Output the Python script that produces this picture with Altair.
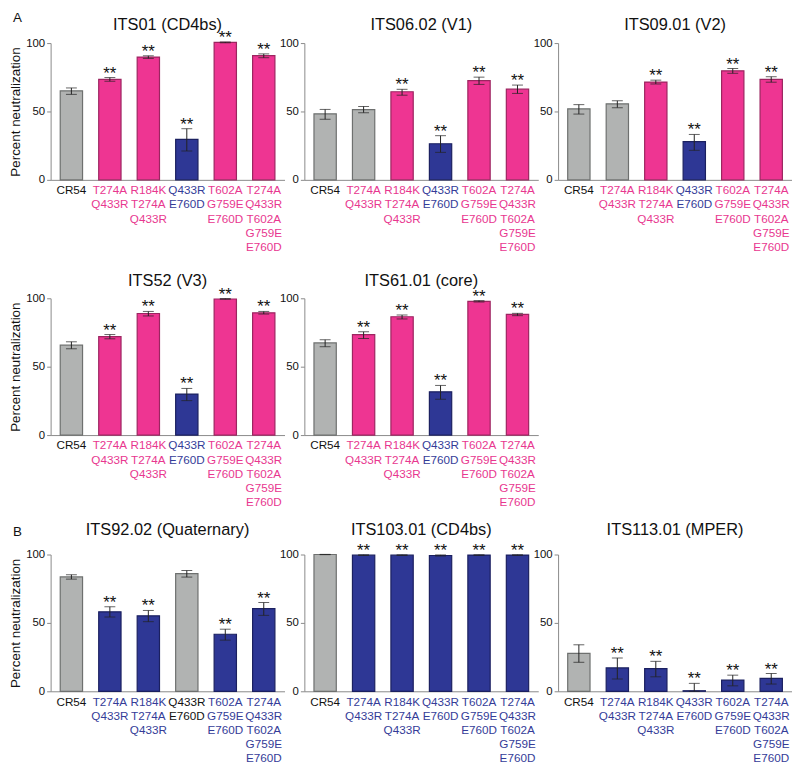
import altair as alt
import pandas as pd

FONT = "Liberation Sans"

CATS = ["CR54", "T274A Q433R", "R184K T274A Q433R", "Q433R E760D",
        "T602A G759E E760D", "T274A Q433R T602A G759E E760D"]

TITLES = ["ITS01 (CD4bs)", "ITS06.02 (V1)", "ITS09.01 (V2)", "ITS52 (V3)",
          "ITS61.01 (core)", "ITS92.02 (Quaternary)", "ITS103.01 (CD4bs)",
          "ITS113.01 (MPER)"]

MEANS = [
    [65.1, 73.5, 89.8, 29.6, 100.5, 90.8],
    [48.3, 51.4, 64.4, 26.4, 72.6, 66.3],
    [51.9, 55.6, 71.5, 28.0, 79.7, 73.4],
    [65.7, 72.0, 88.9, 30.0, 99.5, 89.4],
    [67.4, 73.4, 86.5, 31.6, 97.8, 88.2],
    [83.6, 58.1, 55.2, 86.0, 41.7, 60.5],
    [100.0, 99.5, 99.5, 99.3, 99.6, 99.6],
    [27.7, 17.1, 16.6, 0.4, 8.2, 9.4],
]
LOWS = [
    [62.5, 72.1, 88.8, 21.1, 100.2, 89.3],
    [44.3, 49.1, 61.9, 20.1, 69.8, 63.2],
    [48.1, 52.8, 70.1, 21.6, 77.9, 71.4],
    [63.1, 70.4, 87.1, 25.2, 99.3, 88.5],
    [64.6, 70.6, 84.9, 26.2, 97.3, 87.3],
    [82.0, 54.3, 50.9, 83.5, 37.4, 55.5],
    [99.9, 99.3, 99.3, 98.9, 99.4, 99.4],
    [21.2, 8.9, 10.6, 0.0, 4.0, 5.3],
]
HIGHS = [
    [67.2, 74.8, 90.7, 37.4, 100.8, 92.1],
    [51.5, 53.7, 66.2, 32.3, 75.1, 69.3],
    [55.0, 57.8, 72.9, 33.2, 81.4, 75.4],
    [68.2, 73.5, 90.4, 34.1, 99.8, 90.4],
    [69.7, 75.5, 87.8, 36.3, 98.3, 89.0],
    [85.2, 61.8, 59.1, 88.3, 45.4, 64.9],
    [100.1, 99.8, 99.8, 99.7, 99.8, 99.8],
    [34.0, 24.3, 21.9, 5.8, 11.8, 13.0],
]
# bar colour group: g = gray, p = pink, b = blue
BAR_GROUPS = [
    ["g", "p", "p", "b", "p", "p"],
    ["g", "g", "p", "b", "p", "p"],
    ["g", "g", "p", "b", "p", "p"],
    ["g", "p", "p", "b", "p", "p"],
    ["g", "p", "p", "b", "p", "p"],
    ["g", "b", "b", "g", "b", "b"],
    ["g", "b", "b", "b", "b", "b"],
    ["g", "b", "b", "b", "b", "b"],
]
# label colour group: k = black, p = pink, b = blue
LABEL_GROUPS = [
    ["k", "p", "p", "b", "p", "p"],
    ["k", "p", "p", "b", "p", "p"],
    ["k", "p", "p", "b", "p", "p"],
    ["k", "p", "p", "b", "p", "p"],
    ["k", "p", "p", "b", "p", "p"],
    ["k", "b", "b", "k", "b", "b"],
    ["k", "b", "b", "b", "b", "b"],
    ["k", "b", "b", "b", "b", "b"],
]
SIG = [
    [0, 1, 1, 1, 1, 1],
    [0, 0, 1, 1, 1, 1],
    [0, 0, 1, 1, 1, 1],
    [0, 1, 1, 1, 1, 1],
    [0, 1, 1, 1, 1, 1],
    [0, 1, 1, 0, 1, 1],
    [0, 1, 1, 1, 1, 1],
    [0, 1, 1, 1, 1, 1],
]

FILLS = {"g": "#b1b3b2", "p": "#ee3592", "b": "#2e3795"}
STROKES = {"g": "#6e706f", "p": "#9c2560", "b": "#1b2060"}
TEXT_COLS = {"k": "#111111", "p": "#e8378f", "b": "#343c98"}

PW, PH = 236, 138


def label_color_condition(groups):
    conds = []
    for cat, g in zip(CATS, groups):
        if g != "b":
            conds.append({"test": f"datum.value == '{cat}'", "value": TEXT_COLS[g]})
    return {"condition": conds, "value": TEXT_COLS["b"]}


def panel(i, ytitle=False, title_y=-13, letter=None, letter_y=-21):
    df = pd.DataFrame({
        "cat": CATS,
        "mean": MEANS[i],
        "low": LOWS[i],
        "high": HIGHS[i],
        "grp": BAR_GROUPS[i],
        "sig": SIG[i],
    })
    xenc = alt.X(
        "cat:N", sort=CATS,
        scale=alt.Scale(paddingInner=0.42, paddingOuter=0.25),
        axis=alt.Axis(
            title=None, labelAngle=0, ticks=False, domainColor="#8a8a8a",
            labelExpr="split(datum.value, ' ')", labelFontSize=11.8,
            labelLineHeight=14.3, labelPadding=5, labelOverlap=False,
            labelColor=label_color_condition(LABEL_GROUPS[i]),
            labelFont=FONT,
        ),
    )
    yaxis = alt.Axis(
        values=[0, 50, 100], grid=False, domainColor="#8a8a8a",
        tickColor="#8a8a8a", tickSize=4, labelFontSize=11.5, labelPadding=2,
        labelColor="#111111", labelFont=FONT,
        title="Percent neutralization" if ytitle else None,
        titleFontSize=13.5, titleFontWeight="normal", titlePadding=3,
        titleColor="#111111", titleFont=FONT,
    )
    yscale = alt.Scale(domain=[0, 100], nice=False)
    base = alt.Chart(df).encode(x=xenc)
    bars = base.mark_bar(strokeWidth=1.2).encode(
        y=alt.Y("mean:Q", scale=yscale, axis=yaxis),
        fill=alt.Fill("grp:N", scale=alt.Scale(domain=list(FILLS), range=list(FILLS.values())), legend=None),
        stroke=alt.Stroke("grp:N", scale=alt.Scale(domain=list(STROKES), range=list(STROKES.values())), legend=None),
    )
    rule = base.mark_rule(color="#222222", strokeWidth=1).encode(y="low:Q", y2="high:Q")
    cap_lo = base.mark_tick(color="#222222", size=11, thickness=1).encode(y="low:Q")
    cap_hi = base.mark_tick(color="#222222", size=11, thickness=1).encode(y="high:Q")
    stars = base.transform_filter("datum.sig == 1").mark_text(
        text="**", fontSize=17, font=FONT, baseline="alphabetic", dy=1, color="#111111"
    ).encode(y="high:Q")
    title = alt.Chart(pd.DataFrame({"t": [TITLES[i]]})).mark_text(
        fontSize=16.5, font=FONT, baseline="alphabetic", align="center", color="#111111"
    ).encode(text="t:N", x=alt.value(PW / 2), y=alt.value(title_y))
    layers = [bars, rule, cap_lo, cap_hi, stars, title]
    if letter:
        lab = alt.Chart(pd.DataFrame({"t": [letter]})).mark_text(
            fontSize=13.5, font=FONT, baseline="alphabetic", align="left", color="#111111"
        ).encode(text="t:N", x=alt.value(-38), y=alt.value(letter_y))
        layers.append(lab)
    return alt.layer(*layers).properties(width=PW, height=PH)


row1 = alt.hconcat(panel(0, True, letter="A"), panel(1), panel(2), spacing=20, bounds="flush")
row2 = alt.hconcat(panel(3, True, -12), panel(4, False, -12), spacing=20, bounds="flush")
row3 = alt.hconcat(panel(5, True, -20, letter="B", letter_y=-19), panel(6, False, -20),
                   panel(7, False, -20), spacing=20, bounds="flush")
top = alt.vconcat(row1, row2, spacing=20.5)

chart = alt.vconcat(top, row3, spacing=13).properties(padding=0).configure_view(stroke=None)

chart.save("out.html", embed_options={"renderer": "svg", "actions": False})
